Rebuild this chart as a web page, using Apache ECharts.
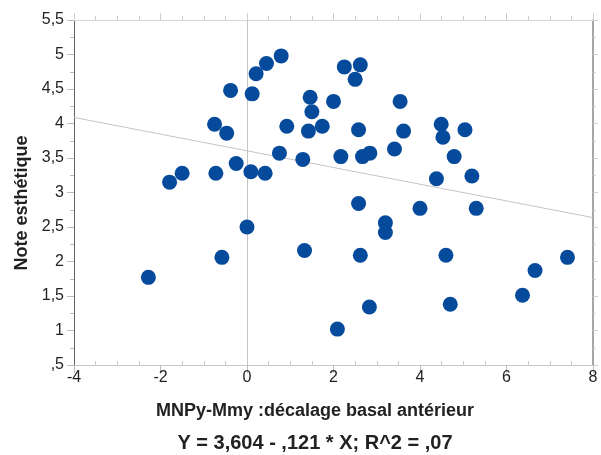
<!DOCTYPE html>
<html>
<head>
<meta charset="utf-8">
<script src="https://cdn.jsdelivr.net/npm/echarts@6/dist/echarts.min.js"></script>
<style>
  html, body { margin: 0; padding: 0; background: #fff; }
  #main { width: 601px; height: 455px; }
</style>
</head>
<body>
<div id="main"></div>
<script>
// x: décalage basal antérieur, y: note esthétique
const points = [
  [-2.28, 1.77], [-1.79, 3.15], [-1.50, 3.28], [-0.75, 3.99], [-0.72, 3.28],
  [-0.58, 2.06], [-0.47, 3.86], [-0.38, 4.48], [-0.25, 3.42], [0.00, 2.50],
  [0.09, 3.30], [0.12, 4.43], [0.21, 4.72], [0.42, 3.28], [0.45, 4.87],
  [0.75, 3.57], [0.79, 4.98], [0.92, 3.96], [1.29, 3.48], [1.33, 2.16],
  [1.42, 3.89], [1.46, 4.38], [1.50, 4.17], [1.74, 3.96], [2.00, 4.32],
  [2.09, 1.02], [2.17, 3.52], [2.25, 4.82], [2.50, 4.64], [2.58, 3.91],
  [2.58, 2.84], [2.62, 4.85], [2.62, 2.09], [2.67, 3.52], [2.83, 1.34],
  [2.84, 3.57], [3.20, 2.56], [3.20, 2.42], [3.41, 3.63], [3.54, 4.32],
  [3.62, 3.89], [4.00, 2.77], [4.38, 3.20], [4.49, 3.99], [4.53, 3.80],
  [4.60, 2.09], [4.70, 1.38], [4.79, 3.52], [5.04, 3.91], [5.20, 3.24],
  [5.30, 2.77], [6.37, 1.51], [6.66, 1.87], [7.41, 2.06]
];
// droite de régression (extrémités)
const regLine = [[-4, 4.088], [8, 2.636]];
const yTickLabels = [',5', '1', '1,5', '2', '2,5', '3', '3,5', '4', '4,5', '5', '5,5'];
const xName = 'MNPy-Mmy :décalage basal antérieur';
const yName = 'Note esthétique';
const equation = 'Y = 3,604 - ,121 * X; R^2 = ,07';

const font = '"Liberation Sans", Arial, sans-serif';
const chart = echarts.init(document.getElementById('main'));

const option = {
  animation: false,
  grid: { left: 74, right: 8, top: 20, bottom: 90 },
  xAxis: [
    {
      // axe du bas : graduations principales vers l'extérieur
      type: 'value', min: -4, max: 8, interval: 2,
      axisLine: { show: true, onZero: false, lineStyle: { color: '#c8c8c8', width: 1 } },
      axisTick: { show: true, length: 8, lineStyle: { color: '#bdbdbd' } },
      minorTick: { show: false },
      splitLine: { show: false },
      axisLabel: { color: '#222', fontSize: 16, fontFamily: font, margin: 5 }
    },
    {
      type: 'value', min: -4, max: 8, interval: 2, position: 'top',
      axisLine: { show: true, onZero: false, lineStyle: { color: '#d8d8d8', width: 1 } },
      axisTick: { show: true, length: 7, lineStyle: { color: '#d0d0d0' } },
      minorTick: { show: true, splitNumber: 4, length: 4, lineStyle: { color: '#d0d0d0' } },
      splitLine: { show: false },
      axisLabel: { show: false }
    },
    {
      // graduations secondaires du bas, vers l'intérieur
      type: 'value', min: -4, max: 8, interval: 2, position: 'bottom',
      axisLine: { show: false, onZero: false },
      axisTick: { show: false, inside: true },
      minorTick: { show: true, splitNumber: 4, length: 4, lineStyle: { color: '#c8c8c8' } },
      splitLine: { show: false },
      axisLabel: { show: false }
    }
  ],
  yAxis: [
    {
      type: 'value', min: 0.5, max: 5.5, interval: 0.5,
      axisLine: { show: true, onZero: false, lineStyle: { color: '#666', width: 1 } },
      axisTick: { show: true, length: 7, lineStyle: { color: '#bdbdbd' } },
      minorTick: { show: true, splitNumber: 2, length: 4, lineStyle: { color: '#bdbdbd' } },
      splitLine: { show: false },
      axisLabel: {
        color: '#222', fontSize: 16, fontFamily: font, margin: 10,
        formatter: v => yTickLabels[Math.round((v - 0.5) / 0.5)]
      }
    },
    {
      type: 'value', min: 0.5, max: 5.5, interval: 0.5, position: 'right',
      axisLine: { show: true, onZero: false, lineStyle: { color: '#888', width: 1.5 } },
      axisTick: { show: true, length: 5, lineStyle: { color: '#d0d0d0' } },
      minorTick: { show: true, splitNumber: 2, length: 3, lineStyle: { color: '#d0d0d0' } },
      splitLine: { show: false },
      axisLabel: { show: false }
    }
  ],
  series: [
    {
      type: 'line',
      data: regLine,
      symbol: 'none',
      silent: true,
      lineStyle: { color: '#c4c4c4', width: 1 },
      z: 1
    },
    {
      type: 'scatter',
      data: points,
      symbol: 'circle',
      symbolSize: 15,
      itemStyle: { color: '#064a9c', opacity: 1 },
      markLine: {
        silent: true,
        symbol: 'none',
        label: { show: false },
        lineStyle: { color: '#c4c4c4', width: 1, type: 'solid' },
        data: [{ xAxis: 0 }],
        z: 1
      },
      z: 3
    }
  ],
  graphic: [
    {
      type: 'text',
      x: 22, y: 203, rotation: Math.PI / 2,
      style: {
        text: yName, fill: '#222', font: 'bold 18px ' + font,
        textAlign: 'center', textVerticalAlign: 'middle'
      }
    },
    {
      type: 'text',
      x: 315, y: 411,
      style: {
        text: xName, fill: '#222', font: 'bold 18px ' + font,
        textAlign: 'center', textVerticalAlign: 'middle'
      }
    },
    {
      type: 'text',
      x: 315, y: 443,
      style: {
        text: equation, fill: '#222', font: 'bold 20px ' + font,
        textAlign: 'center', textVerticalAlign: 'middle'
      }
    }
  ]
};

chart.setOption(option);
</script>
</body>
</html>
